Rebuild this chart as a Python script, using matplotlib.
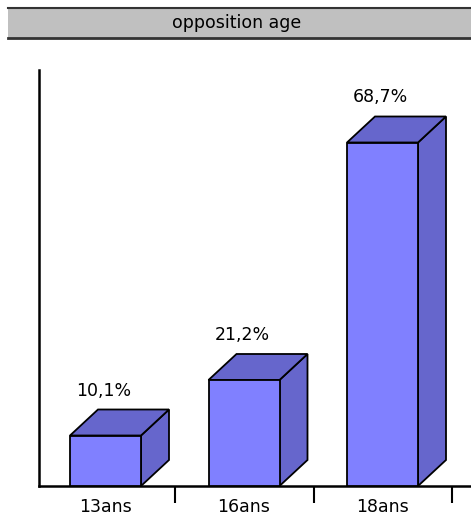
import numpy as np
import matplotlib.pyplot as plt
from matplotlib.patches import Polygon, Rectangle

categories = ["13ans", "16ans", "18ans"]
values = [10.1, 21.2, 68.7]
value_labels = ["10,1%", "21,2%", "68,7%"]
title = "opposition age"

FRONT = "#8080FF"
SIDE = "#6666CC"

plt.rcParams["font.family"] = ["DejaVu Sans"]

W, H = 471, 515
fig = plt.figure(figsize=(W / 100, H / 100), dpi=100)

# title bar across the top
fig.patches.append(Rectangle((8 / W, 1 - 38 / H), 1, 31 / H, transform=fig.transFigure,
                             facecolor="#C0C0C0", edgecolor="none"))
fig.lines.append(plt.Line2D([8 / W, 1], [1 - 7.5 / H] * 2, transform=fig.transFigure,
                            color="#333333", lw=1.5))
fig.lines.append(plt.Line2D([8 / W, 1], [1 - 37.5 / H] * 2, transform=fig.transFigure,
                            color="#333333", lw=2))
fig.text(237 / W, 1 - 23 / H, title, ha="center", va="center", fontsize=12.5)

ax = fig.add_axes([39 / W, (H - 486) / H, (W - 39) / W, (486 - 70) / H])
unit = 138.5
ax.set_xlim(0, (W - 39) / unit)
ax.set_ylim(0, 416 / 5.0)

x = np.arange(len(categories))
bar_left = x + 31 / unit
bar_w = 71 / unit
dx = 28 / unit
dy = 26 / 5.0

for xl, v, lab in zip(bar_left, values, value_labels):
    xr = xl + bar_w
    front = Polygon([(xl, 0), (xr, 0), (xr, v), (xl, v)], closed=True,
                    facecolor=FRONT, edgecolor="black", lw=1.3, clip_on=False, zorder=3)
    side = Polygon([(xr, 0), (xr + dx, dy), (xr + dx, v + dy), (xr, v)], closed=True,
                   facecolor=SIDE, edgecolor="black", lw=1.3, clip_on=False, zorder=3)
    top = Polygon([(xl, v), (xr, v), (xr + dx, v + dy), (xl + dx, v + dy)], closed=True,
                  facecolor=SIDE, edgecolor="black", lw=1.3, clip_on=False, zorder=3)
    for p in (side, top, front):
        ax.add_patch(p)
    ax.text(xl + bar_w / 2 - 2 / unit, v + dy + 3.8, lab, ha="center", va="center",
            fontsize=12.5)

for xl, c in zip(bar_left, categories):
    ax.text(xl + bar_w / 2, -4.3, c, ha="center", va="center", fontsize=12.5)

ax.set_xticks(x + 1 - 2.5 / unit)
ax.set_xticklabels([])
ax.tick_params(axis="x", direction="out", length=12, width=1.5, color="black")
ax.set_yticks([])
ax.spines["top"].set_visible(False)
ax.spines["right"].set_visible(False)
ax.spines["left"].set_linewidth(1.8)
ax.spines["bottom"].set_linewidth(1.8)

fig.savefig("out.png", dpi=100)
